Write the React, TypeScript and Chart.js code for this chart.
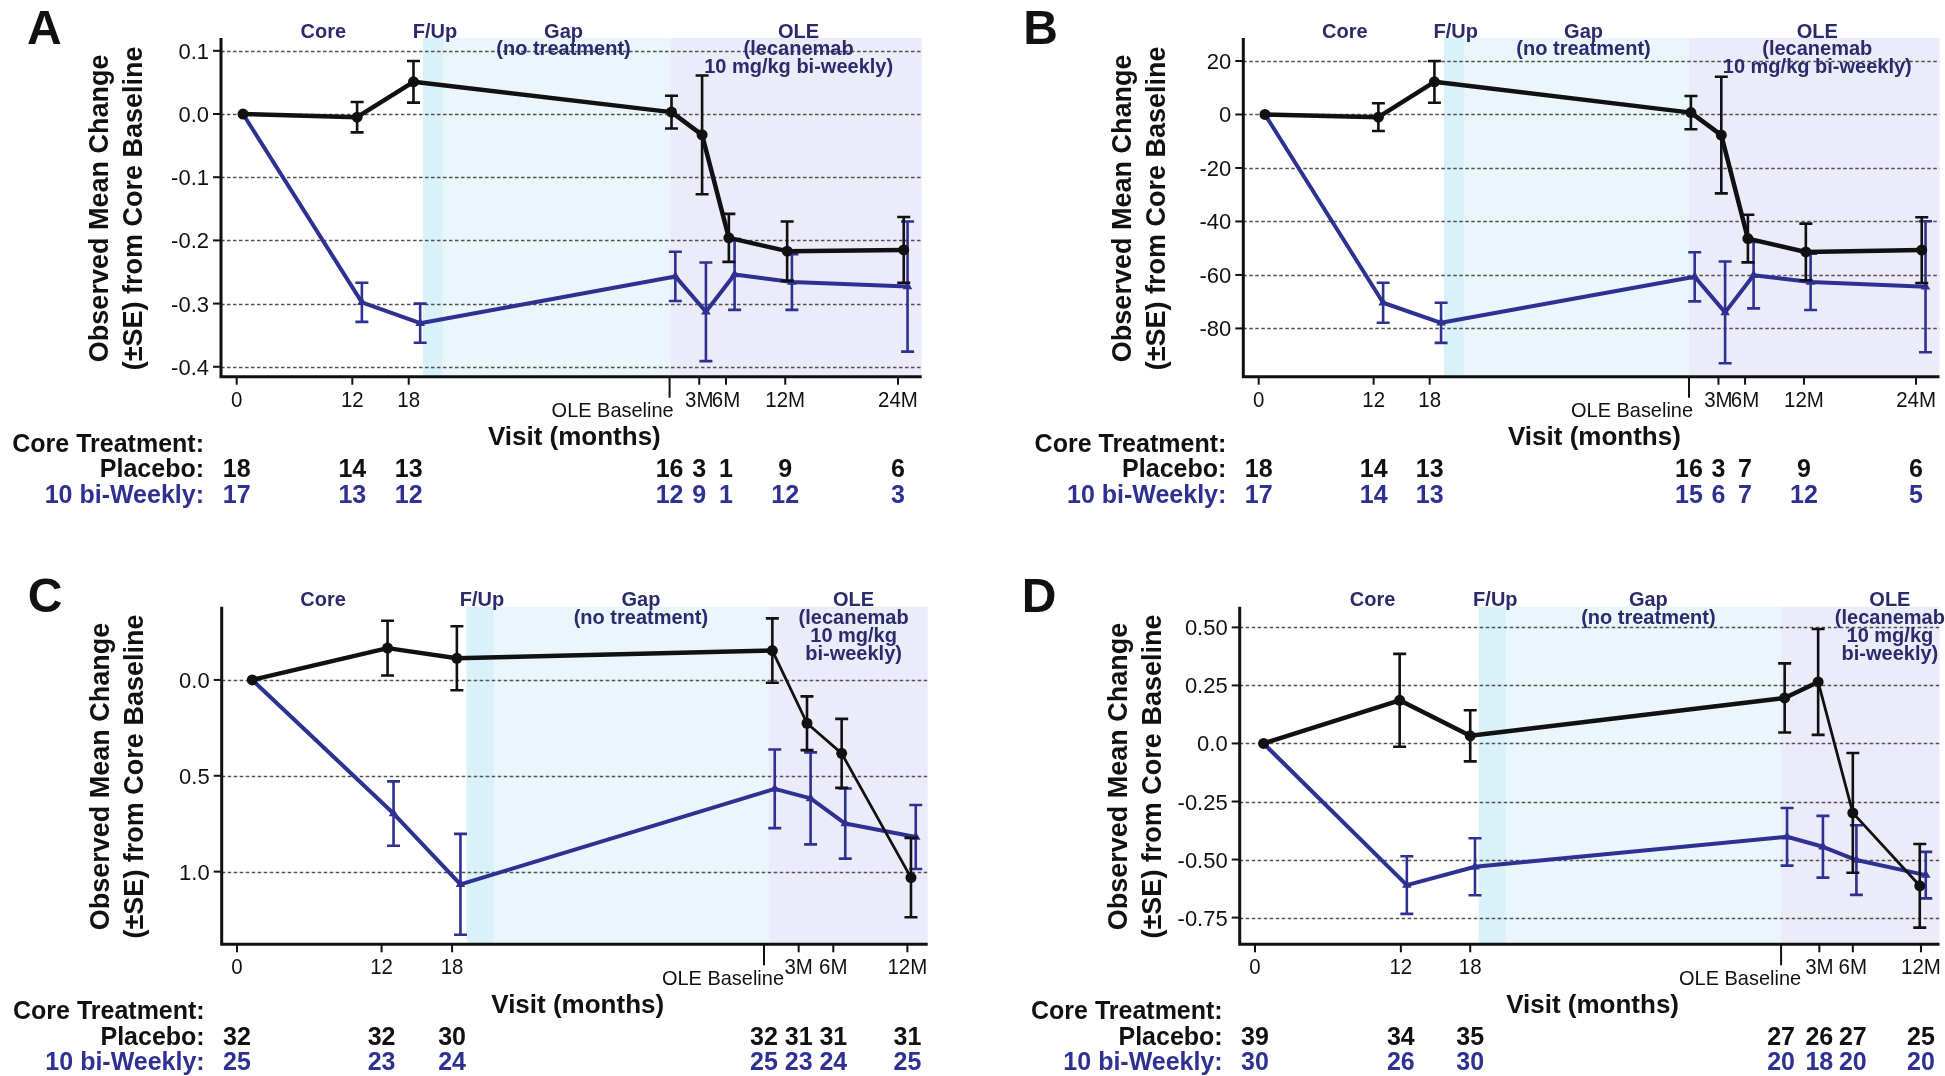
import React, { useEffect, useRef } from 'react';
import { Chart, registerables } from 'chart.js';
Chart.register(...registerables);

const FONT = '"Liberation Sans", Arial, Helvetica, sans-serif';
const BLACK = '#111111';
const BLUE = '#2e3192';
const NAVY = '#2b2a6c';
const GRID = '#505050';
const SHADE_FUP = '#d9f1f8';
const SHADE_GAP = '#eaf5fc';
const SHADE_OLE = '#ecebf9';

// ---------- Panel A / B (24 months OLE) ----------
const AB_TICK_MONTHS = [0, 12.1, 18, 45.3, 48.4, 51.2, 57.4, 69.2];
const AB_TICK_LABELS = ['0', '12', '18', 'OLE Baseline', '3M', '6M', '12M', '24M'];
const AB_X_PLACEBO = [0.66, 12.6, 18.5, 45.5, 48.7, 51.5, 57.6, 69.8];
const AB_X_ACTIVE = [0.66, 13.1, 19.2, 45.9, 49.1, 52.1, 58.1, 70.2];

const A_Y_TICKS = [0.1, 0, -0.1, -0.2, -0.3, -0.4];
const A_Y_LABELS = ['0.1', '0.0', '-0.1', '-0.2', '-0.3', '-0.4'];
const A_PLACEBO = [0, -0.005, 0.051, 0.003, -0.033, -0.196, -0.217, -0.215];
const A_PLACEBO_SE = [0, 0.024, 0.033, 0.026, 0.094, 0.038, 0.047, 0.052];
const A_ACTIVE = [0, -0.298, -0.331, -0.257, -0.313, -0.254, -0.266, -0.273];
const A_ACTIVE_SE = [0, 0.031, 0.031, 0.039, 0.078, 0.056, 0.044, 0.103];
const A_N_PLACEBO = ['18', '14', '13', '16', '3', '1', '9', '6'];
const A_N_ACTIVE = ['17', '13', '12', '12', '9', '1', '12', '3'];

const B_Y_TICKS = [20, 0, -20, -40, -60, -80];
const B_Y_LABELS = ['20', '0', '-20', '-40', '-60', '-80'];
const B_PLACEBO = [0, -1, 12.2, 0.7, -7.7, -46.4, -51.4, -50.7];
const B_PLACEBO_SE = [0, 5.2, 7.8, 6.2, 21.8, 8.9, 10.6, 12.3];
const B_ACTIVE = [0, -70.4, -77.9, -60.7, -74, -60.1, -62.6, -64.4];
const B_ACTIVE_SE = [0, 7.5, 7.5, 9.2, 19, 12.4, 10.5, 24.5];
const B_N_PLACEBO = ['18', '14', '13', '16', '3', '7', '9', '6'];
const B_N_ACTIVE = ['17', '14', '13', '15', '6', '7', '12', '5'];

// ---------- Panel C ----------
const C_TICK_MONTHS = [0, 12.1, 18, 44.1, 47.0, 49.9, 56.1];
const C_TICK_LABELS = ['0', '12', '18', 'OLE Baseline', '3M', '6M', '12M'];
const C_Y_TICKS = [0, 0.5, 1.0];
const C_Y_LABELS = ['0.0', '0.5', '1.0'];
const C_X_PLACEBO = [1.28, 12.6, 18.4, 44.8, 47.7, 50.6, 56.4];
const C_PLACEBO = [0, -0.166, -0.113, -0.153, 0.226, 0.383, 1.031];
const C_PLACEBO_SE = [0, 0.143, 0.167, 0.168, 0.14, 0.18, 0.207];
const C_X_ACTIVE = [1.28, 13.1, 18.7, 45.0, 48.0, 50.9, 56.8];
const C_ACTIVE = [0, 0.697, 1.066, 0.568, 0.618, 0.749, 0.819];
const C_ACTIVE_SE = [0, 0.168, 0.263, 0.205, 0.24, 0.183, 0.167];
const C_N_PLACEBO = ['32', '32', '30', '32', '31', '31', '31'];
const C_N_ACTIVE = ['25', '23', '24', '25', '23', '24', '25'];

// ---------- Panel D ----------
const D_TICK_MONTHS = [0, 12.2, 18, 44.0, 47.2, 50.0, 55.7];
const D_TICK_LABELS = ['0', '12', '18', 'OLE Baseline', '3M', '6M', '12M'];
const D_Y_TICKS = [0.5, 0.25, 0, -0.25, -0.5, -0.75];
const D_Y_LABELS = ['0.50', '0.25', '0.0', '-0.25', '-0.50', '-0.75'];
const D_X_PLACEBO = [0.72, 12.1, 18.0, 44.3, 47.1, 50.0, 55.6];
const D_PLACEBO = [0, 0.186, 0.033, 0.196, 0.265, -0.299, -0.613];
const D_PLACEBO_SE = [0, 0.2, 0.11, 0.149, 0.228, 0.258, 0.18];
const D_X_ACTIVE = [0.72, 12.7, 18.4, 44.5, 47.5, 50.3, 56.1];
const D_ACTIVE = [0, -0.61, -0.531, -0.402, -0.445, -0.502, -0.567];
const D_ACTIVE_SE = [0, 0.124, 0.123, 0.124, 0.133, 0.15, 0.1];
const D_N_PLACEBO = ['39', '34', '35', '27', '26', '27', '25'];
const D_N_ACTIVE = ['30', '26', '30', '20', '18', '20', '20'];

const OLE_TEXT_AB = ['OLE', '(lecanemab', '10 mg/kg bi-weekly)'];
const OLE_TEXT_CD = ['OLE', '(lecanemab', '10 mg/kg', 'bi-weekly)'];

type Phase = { x: number; lines: string[] };
type Panel = {
  letter: string;
  canvas: { left: number; top: number; width: number; height: number };
  area: { l: number; t: number; r: number; b: number };
  xMin: number; xMax: number; yMin: number; yMax: number; reverse: boolean;
  yTicks: number[]; yLabels: string[];
  tickMonths: number[]; tickLabels: string[];
  px: number[]; py: number[]; pse: number[];
  ax: number[]; ay: number[]; ase: number[];
  nP: string[]; nA: string[];
  shades: [number, number, string][];
  phases: Phase[];
  letterDx: number;
  oleDx: number;
  thinFrom: number;
};

const PANELS: Panel[] = [
  {
    letter: 'A', canvas: { left: 0, top: 0, width: 975, height: 545 },
    area: { l: 221, t: 38, r: 921.7, b: 376.7 },
    xMin: -1.643, xMax: 71.68, yMin: -0.4157, yMax: 0.1203, reverse: false,
    yTicks: A_Y_TICKS, yLabels: A_Y_LABELS, tickMonths: AB_TICK_MONTHS, tickLabels: AB_TICK_LABELS,
    px: AB_X_PLACEBO, py: A_PLACEBO, pse: A_PLACEBO_SE, ax: AB_X_ACTIVE, ay: A_ACTIVE, ase: A_ACTIVE_SE,
    nP: A_N_PLACEBO, nA: A_N_ACTIVE,
    shades: [[19.5, 21.6, SHADE_FUP], [21.6, 45.3, SHADE_GAP], [45.3, 80, SHADE_OLE]],
    phases: [{ x: 9.06, lines: ['Core'] }, { x: 20.75, lines: ['F/Up'] }, { x: 34.2, lines: ['Gap', '(no treatment)'] }, { x: 58.8, lines: OLE_TEXT_AB }],
    letterDx: -194, oleDx: 4, thinFrom: 99,
  },
  {
    letter: 'B', canvas: { left: 975, top: 0, width: 970, height: 545 },
    area: { l: 1243.3, t: 38, r: 1943.7, b: 376.7 },
    xMin: -1.62, xMax: 71.67, yMin: -98.05, yMax: 28.6, reverse: false,
    yTicks: B_Y_TICKS, yLabels: B_Y_LABELS, tickMonths: AB_TICK_MONTHS, tickLabels: AB_TICK_LABELS,
    px: AB_X_PLACEBO, py: B_PLACEBO, pse: B_PLACEBO_SE, ax: AB_X_ACTIVE, ay: B_ACTIVE, ase: B_ACTIVE_SE,
    nP: B_N_PLACEBO, nA: B_N_ACTIVE,
    shades: [[19.5, 21.6, SHADE_FUP], [21.6, 45.3, SHADE_GAP], [45.3, 80, SHADE_OLE]],
    phases: [{ x: 9.06, lines: ['Core'] }, { x: 20.75, lines: ['F/Up'] }, { x: 34.2, lines: ['Gap', '(no treatment)'] }, { x: 58.8, lines: OLE_TEXT_AB }],
    letterDx: -220, oleDx: 4, thinFrom: 99,
  },
  {
    letter: 'C', canvas: { left: 0, top: 545, width: 975, height: 531 },
    area: { l: 221.7, t: 606.7, r: 927.7, b: 944.3 },
    xMin: -1.28, xMax: 57.8, yMin: -0.382, yMax: 1.379, reverse: true,
    yTicks: C_Y_TICKS, yLabels: C_Y_LABELS, tickMonths: C_TICK_MONTHS, tickLabels: C_TICK_LABELS,
    px: C_X_PLACEBO, py: C_PLACEBO, pse: C_PLACEBO_SE, ax: C_X_ACTIVE, ay: C_ACTIVE, ase: C_ACTIVE_SE,
    nP: C_N_PLACEBO, nA: C_N_ACTIVE,
    shades: [[19.2, 21.5, SHADE_FUP], [21.5, 44.5, SHADE_GAP], [44.5, 80, SHADE_OLE]],
    phases: [{ x: 7.2, lines: ['Core'] }, { x: 20.5, lines: ['F/Up'] }, { x: 33.8, lines: ['Gap', '(no treatment)'] }, { x: 51.6, lines: OLE_TEXT_CD }],
    letterDx: -194, oleDx: 20, thinFrom: 3,
  },
  {
    letter: 'D', canvas: { left: 975, top: 545, width: 970, height: 531 },
    area: { l: 1239.7, t: 606.7, r: 1940.3, b: 944.3 },
    xMin: -1.28, xMax: 57.25, yMin: -0.865, yMax: 0.589, reverse: false,
    yTicks: D_Y_TICKS, yLabels: D_Y_LABELS, tickMonths: D_TICK_MONTHS, tickLabels: D_TICK_LABELS,
    px: D_X_PLACEBO, py: D_PLACEBO, pse: D_PLACEBO_SE, ax: D_X_ACTIVE, ay: D_ACTIVE, ase: D_ACTIVE_SE,
    nP: D_N_PLACEBO, nA: D_N_ACTIVE,
    shades: [[18.7, 21.0, SHADE_FUP], [21.0, 44.0, SHADE_GAP], [44.0, 80, SHADE_OLE]],
    phases: [{ x: 9.84, lines: ['Core'] }, { x: 20.1, lines: ['F/Up'] }, { x: 32.9, lines: ['Gap', '(no treatment)'] }, { x: 53.1, lines: OLE_TEXT_CD }],
    letterDx: -218, oleDx: 20, thinFrom: 4,
  },
];

function txt(ctx: CanvasRenderingContext2D, s: string, x: number, y: number, font: string, color: string, align: CanvasTextAlign, hs = 1) {
  ctx.save();
  ctx.font = font;
  ctx.fillStyle = color;
  ctx.textBaseline = 'alphabetic';
  ctx.textAlign = align;
  ctx.translate(x, y);
  ctx.scale(hs, 1);
  ctx.fillText(s, 0, 0);
  ctx.restore();
}

function PanelChart({ p }: { p: Panel }) {
  const ref = useRef<HTMLCanvasElement>(null);
  useEffect(() => {
    const cv = ref.current;
    if (!cv) return;
    const c = p.canvas;
    const a = p.area;
    const decor = {
      id: 'decor',
      beforeDatasetsDraw(chart: any) {
        const ctx: CanvasRenderingContext2D = chart.ctx;
        const ca = chart.chartArea;
        const xs = chart.scales.x;
        const ys = chart.scales.y;
        // shading
        for (const [x0, x1, col] of p.shades) {
          const l = Math.max(ca.left, xs.getPixelForValue(x0));
          const r = Math.min(ca.right, xs.getPixelForValue(x1));
          ctx.fillStyle = col;
          ctx.fillRect(l, ca.top, r - l, ca.bottom - ca.top);
        }
        // grid
        ctx.save();
        ctx.strokeStyle = GRID;
        ctx.lineWidth = 1.7;
        ctx.setLineDash([3.5, 2.5]);
        for (const v of p.yTicks) {
          const y = Math.round(ys.getPixelForValue(v)) + 0.5;
          ctx.beginPath();
          ctx.moveTo(ca.left, y);
          ctx.lineTo(ca.right, y);
          ctx.stroke();
        }
        ctx.restore();
        // axes
        ctx.save();
        ctx.strokeStyle = BLACK;
        ctx.lineWidth = 3;
        ctx.beginPath();
        ctx.moveTo(ca.left, ca.top);
        ctx.lineTo(ca.left, ca.bottom);
        ctx.lineTo(ca.right, ca.bottom);
        ctx.stroke();
        ctx.lineWidth = 2;
        // y ticks
        p.yTicks.forEach((v, i) => {
          const y = ys.getPixelForValue(v);
          ctx.beginPath();
          ctx.moveTo(ca.left - 8, y);
          ctx.lineTo(ca.left, y);
          ctx.stroke();
          txt(ctx, p.yLabels[i], ca.left - 12, y + 8, `22px ${FONT}`, BLACK, 'right');
        });
        // x ticks
        p.tickMonths.forEach((m, i) => {
          const x = xs.getPixelForValue(m);
          const isOle = p.tickLabels[i] === 'OLE Baseline';
          ctx.beginPath();
          ctx.moveTo(x, ca.bottom);
          ctx.lineTo(x, ca.bottom + (isOle ? 21 : 8));
          ctx.stroke();
          if (isOle) {
            txt(ctx, p.tickLabels[i], x + p.oleDx, ca.bottom + 40.6, `21px ${FONT}`, BLACK, 'right', 0.95);
          } else {
            txt(ctx, p.tickLabels[i], x, ca.bottom + 30, `22px ${FONT}`, BLACK, 'center', 0.93);
          }
          txt(ctx, p.nP[i], x, ca.bottom + 100.6, `bold 25px ${FONT}`, BLACK, 'center');
          txt(ctx, p.nA[i], x, ca.bottom + 126, `bold 25px ${FONT}`, BLUE, 'center');
        });
        ctx.restore();
        // axis titles and table headers
        const midX = (ca.left + ca.right) / 2 + 3;
        txt(ctx, 'Visit (months)', midX, ca.bottom + 68.3, `bold 26px ${FONT}`, BLACK, 'center');
        txt(ctx, 'Core Treatment:', ca.left - 17, ca.bottom + 75, `bold 25px ${FONT}`, BLACK, 'right');
        txt(ctx, 'Placebo:', ca.left - 17, ca.bottom + 100.6, `bold 25px ${FONT}`, BLACK, 'right');
        txt(ctx, '10 bi-Weekly:', ca.left - 17, ca.bottom + 126, `bold 25px ${FONT}`, BLUE, 'right');
        // y title
        const midY = (ca.top + ca.bottom) / 2 + 1;
        ctx.save();
        ctx.translate(ca.left - 120, midY);
        ctx.rotate(-Math.PI / 2);
        ctx.font = `bold 27px ${FONT}`;
        ctx.fillStyle = BLACK;
        ctx.textAlign = 'center';
        ctx.textBaseline = 'middle';
        ctx.fillText('Observed Mean Change', 0, 0);
        ctx.fillText('(\u00B1SE) from Core Baseline', 0, 34);
        ctx.restore();
        // panel letter
        txt(ctx, p.letter, ca.left + p.letterDx, ca.top + 5.5, `bold 48px ${FONT}`, BLACK, 'left');
        // phase labels
        for (const ph of p.phases) {
          const x = xs.getPixelForValue(ph.x);
          ph.lines.forEach((s, k) => {
            txt(ctx, s, x, ca.top - 0.5 + k * 17.8, `bold 20px ${FONT}`, NAVY, 'center');
          });
        }
      },
      beforeDatasetDraw(chart: any, args: any) {
        const ctx: CanvasRenderingContext2D = chart.ctx;
        const xs = chart.scales.x;
        const ys = chart.scales.y;
        const isP = args.index === 0;
        const X = isP ? p.px : p.ax;
        const Y = isP ? p.py : p.ay;
        const S = isP ? p.pse : p.ase;
        ctx.save();
        ctx.strokeStyle = isP ? BLACK : BLUE;
        ctx.lineWidth = 2.6;
        X.forEach((xv, i) => {
          if (!S[i]) return;
          const x = xs.getPixelForValue(xv);
          const y0 = ys.getPixelForValue(Y[i] - S[i]);
          const y1 = ys.getPixelForValue(Y[i] + S[i]);
          ctx.beginPath();
          ctx.moveTo(x, y0); ctx.lineTo(x, y1);
          ctx.moveTo(x - 6.5, y0); ctx.lineTo(x + 6.5, y0);
          ctx.moveTo(x - 6.5, y1); ctx.lineTo(x + 6.5, y1);
          ctx.stroke();
        });
        ctx.restore();
      },
    };
    const chart = new Chart(cv, {
      type: 'line',
      data: {
        datasets: [
          {
            label: 'Placebo',
            data: p.px.map((x, i) => ({ x, y: p.py[i] })),
            borderColor: BLACK,
            backgroundColor: BLACK,
            borderWidth: 4.5,
            pointStyle: 'circle',
            pointRadius: 5.5,
            pointBackgroundColor: BLACK,
            pointBorderColor: BLACK,
            pointBorderWidth: 0,
            tension: 0,
            segment: { borderWidth: (ctx: any) => (ctx.p0DataIndex >= p.thinFrom ? 2.8 : 4.5) },
          },
          {
            label: '10 bi-Weekly',
            data: p.ax.map((x, i) => ({ x, y: p.ay[i] })),
            borderColor: BLUE,
            backgroundColor: BLUE,
            borderWidth: 4,
            pointStyle: 'triangle',
            pointRadius: 5.5,
            pointBackgroundColor: BLUE,
            pointBorderColor: BLUE,
            pointBorderWidth: 0,
            tension: 0,
          },
        ],
      } as any,
      options: {
        responsive: false,
        maintainAspectRatio: false,
        animation: false,
        devicePixelRatio: 1,
        layout: {
          padding: {
            left: a.l - c.left,
            top: a.t - c.top,
            right: c.left + c.width - a.r,
            bottom: c.top + c.height - a.b,
          },
        },
        plugins: { legend: { display: false }, tooltip: { enabled: false }, title: { display: false } },
        scales: {
          x: { type: 'linear', min: p.xMin, max: p.xMax, display: false },
          y: { type: 'linear', min: p.yMin, max: p.yMax, reverse: p.reverse, display: false },
        },
        elements: { line: { borderJoinStyle: 'round', borderCapStyle: 'round' } },
      } as any,
      plugins: [decor as any],
    });
    return () => chart.destroy();
  }, [p]);
  const c = p.canvas;
  return (
    <canvas
      ref={ref}
      width={c.width}
      height={c.height}
      style={{ position: 'absolute', left: c.left, top: c.top, width: c.width, height: c.height }}
    />
  );
}

export default function App() {
  return (
    <div style={{ position: 'absolute', left: 0, top: 0, width: 1945, height: 1076, background: '#ffffff', overflow: 'hidden' }}>
      {PANELS.map((p) => (
        <PanelChart key={p.letter} p={p} />
      ))}
    </div>
  );
}
